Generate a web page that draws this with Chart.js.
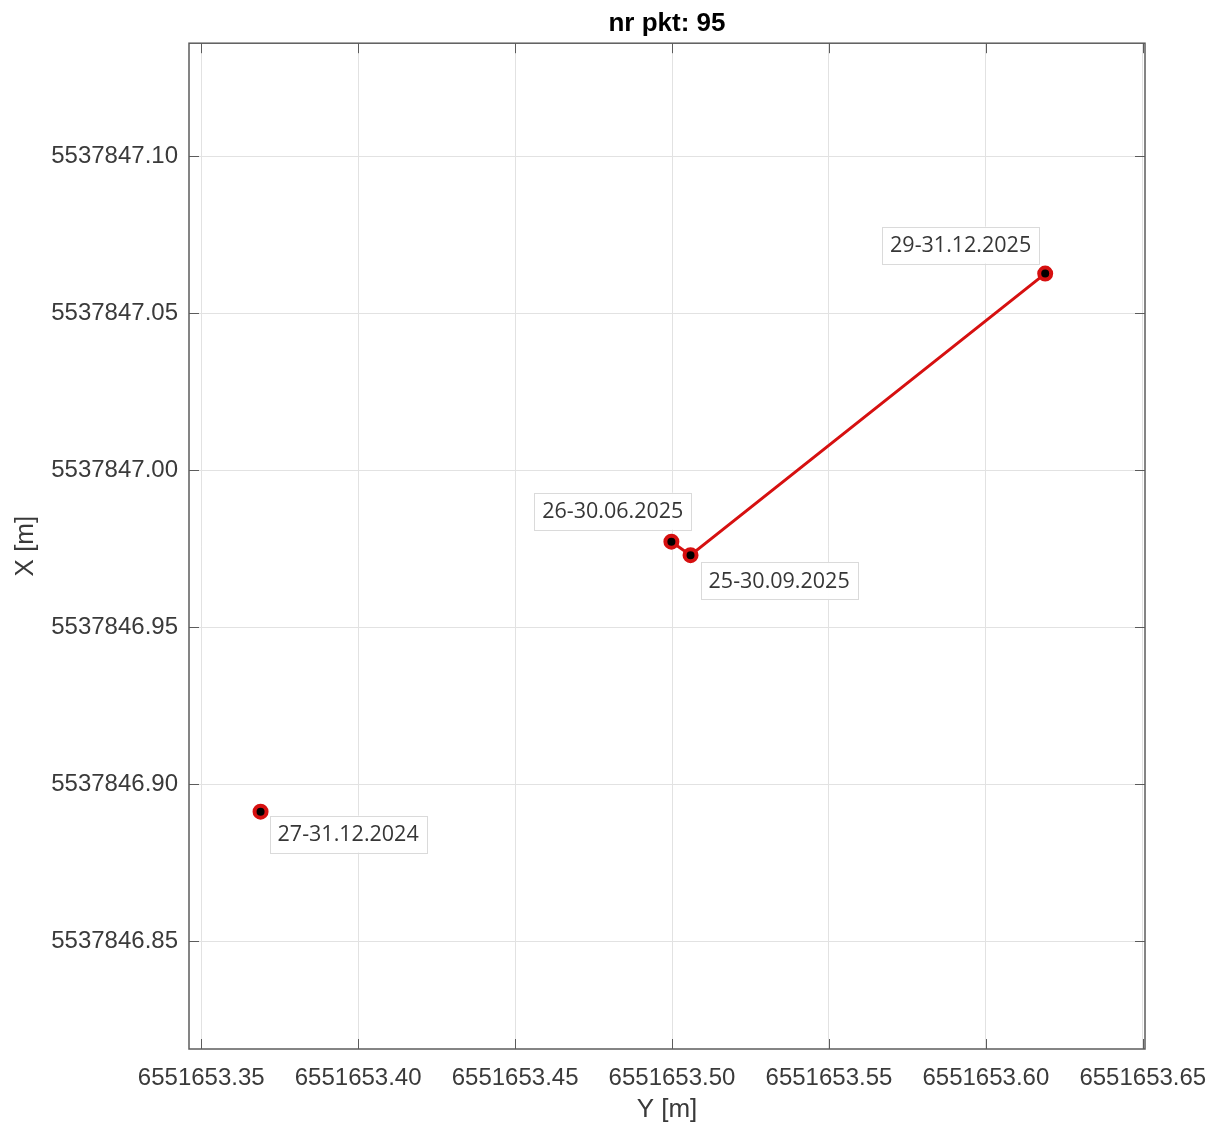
<!DOCTYPE html>
<html>
<head>
<meta charset="utf-8">
<script src="https://cdn.jsdelivr.net/npm/chart.js@4/dist/chart.umd.min.js"></script>
<style>
  html, body { margin: 0; padding: 0; background: #ffffff; }
  canvas { display: block; }
</style>
</head>
<body>
<canvas id="chart" width="1210" height="1126"></canvas>
<script>
// Survey point 95 – positions from successive measurement campaigns
const pointNo = 95;
const campaigns = ['27-31.12.2024', '26-30.06.2025', '25-30.09.2025', '29-31.12.2025'];
const coordY = [6551653.3689, 6551653.4998, 6551653.5059, 6551653.6189]; // easting  [m]
const coordX = [5537846.8912, 5537846.9772, 5537846.9729, 5537847.0626]; // northing [m]
// campaigns joined by the displacement track
const trackIdx = [1, 2, 3];

const yTickValues = [6551653.35, 6551653.40, 6551653.45, 6551653.50, 6551653.55, 6551653.60, 6551653.65];
const xTickValues = [5537846.85, 5537846.90, 5537846.95, 5537847.00, 5537847.05, 5537847.10];

const axisRangeY = [6551653.3461, 6551653.6507];
const axisRangeX = [5537846.8156, 5537847.1360];

const allPoints = coordY.map((y, i) => ({ x: y, y: coordX[i] }));
const trackPoints = trackIdx.map(i => ({ x: coordY[i], y: coordX[i] }));

const RED = 'rgb(214, 16, 16)';
const FRAME = '#5c5c5c';

// Callout placement for each campaign label (box corner relative to its marker)
const callouts = [
  { anchor: 'left',  dx: 9,   dy: 4   },
  { anchor: 'right', dx: 20,  dy: -49 },
  { anchor: 'left',  dx: 10,  dy: 7   },
  { anchor: 'right', dx: -6,  dy: -47 }
];

const framePlugin = {
  id: 'frameAndTicks',
  afterDatasetsDraw(chart) {
    const { ctx, chartArea: a, scales } = chart;
    ctx.save();
    ctx.strokeStyle = FRAME;
    ctx.lineWidth = 1.5;
    ctx.strokeRect(a.left, a.top, a.right - a.left, a.bottom - a.top);
    ctx.lineWidth = 1;
    const tl = 10;
    ctx.beginPath();
    yTickValues.forEach(v => {
      const px = Math.round(scales.x.getPixelForValue(v)) + 0.5;
      ctx.moveTo(px, a.bottom); ctx.lineTo(px, a.bottom - tl);
      ctx.moveTo(px, a.top); ctx.lineTo(px, a.top + tl);
    });
    xTickValues.forEach(v => {
      const py = Math.round(scales.y.getPixelForValue(v)) + 0.5;
      ctx.moveTo(a.left, py); ctx.lineTo(a.left + tl, py);
      ctx.moveTo(a.right, py); ctx.lineTo(a.right - tl, py);
    });
    ctx.stroke();
    ctx.restore();
  }
};

const calloutPlugin = {
  id: 'campaignCallouts',
  afterDraw(chart) {
    const { ctx, scales } = chart;
    ctx.save();
    ctx.font = '21.5px "Open Sans"';
    ctx.textBaseline = 'middle';
    ctx.textAlign = 'left';
    const padX = 8, boxH = 37;
    campaigns.forEach((label, i) => {
      const px = scales.x.getPixelForValue(coordY[i]);
      const py = scales.y.getPixelForValue(coordX[i]);
      const c = callouts[i];
      const w = ctx.measureText(label).width + 2 * padX;
      const left = c.anchor === 'left' ? px + c.dx : px + c.dx - w;
      const top = py + c.dy;
      ctx.fillStyle = 'rgba(255,255,255,0.95)';
      ctx.fillRect(left, top, w, boxH);
      ctx.strokeStyle = '#dadada';
      ctx.lineWidth = 1;
      ctx.strokeRect(Math.round(left) + 0.5, Math.round(top) + 0.5, Math.round(w), boxH);
      ctx.fillStyle = '#363636';
      ctx.fillText(label, left + padX, top + boxH / 2 + 1);
    });
    ctx.restore();
  }
};

new Chart(document.getElementById('chart'), {
  type: 'scatter',
  data: {
    datasets: [
      {
        label: 'campaigns',
        data: allPoints,
        showLine: false,
        pointRadius: 6,
        pointBorderWidth: 4,
        pointBackgroundColor: '#000000',
        pointBorderColor: RED,
        pointHoverRadius: 6
      },
      {
        label: 'track',
        data: trackPoints,
        showLine: true,
        borderColor: RED,
        borderWidth: 3,
        pointRadius: 0,
        pointHoverRadius: 0,
        fill: false
      }
    ]
  },
  options: {
    responsive: false,
    animation: false,
    devicePixelRatio: 1,
    layout: { padding: { top: 0, left: 0, right: 65, bottom: 0 } },
    plugins: {
      legend: { display: false },
      tooltip: { enabled: false },
      title: {
        display: true,
        text: `nr pkt: ${pointNo}`,
        fullSize: false,
        color: '#000000',
        font: { family: '"Liberation Sans", Arial, sans-serif', size: 26, weight: 'bold' },
        padding: { top: 8, bottom: 4 }
      }
    },
    scales: {
      x: {
        type: 'linear',
        position: 'bottom',
        min: axisRangeY[0],
        max: axisRangeY[1],
        afterBuildTicks: s => { s.ticks = yTickValues.map(v => ({ value: v })); },
        afterFit: s => { s.height = 77; s.paddingLeft = 0; s.paddingRight = 0; },
        border: { display: false },
        grid: { color: '#e2e2e2', lineWidth: 1, drawTicks: false },
        ticks: {
          padding: 15,
          color: '#3a3a3a',
          maxRotation: 0,
          autoSkip: false,
          font: { family: '"Liberation Sans", Arial, sans-serif', size: 24 },
          callback: v => Number(v).toFixed(2)
        },
        title: {
          display: true,
          text: 'Y [m]',
          color: '#3a3a3a',
          font: { family: '"Liberation Sans", Arial, sans-serif', size: 26 },
          padding: { top: 0, bottom: 1 }
        }
      },
      y: {
        type: 'linear',
        position: 'left',
        min: axisRangeX[0],
        max: axisRangeX[1],
        afterBuildTicks: s => { s.ticks = xTickValues.map(v => ({ value: v })); },
        afterFit: s => { s.width = 189; s.paddingTop = 0; s.paddingBottom = 0; },
        border: { display: false },
        grid: { color: '#e2e2e2', lineWidth: 1, drawTicks: false },
        ticks: {
          padding: 11,
          color: '#3a3a3a',
          autoSkip: false,
          font: { family: '"Liberation Sans", Arial, sans-serif', size: 24 },
          callback: v => Number(v).toFixed(2)
        },
        title: {
          display: true,
          text: 'X [m]',
          color: '#3a3a3a',
          font: { family: '"Liberation Sans", Arial, sans-serif', size: 26 },
          padding: { top: 10, bottom: 0 }
        }
      }
    }
  },
  plugins: [framePlugin, calloutPlugin]
});
</script>
</body>
</html>
